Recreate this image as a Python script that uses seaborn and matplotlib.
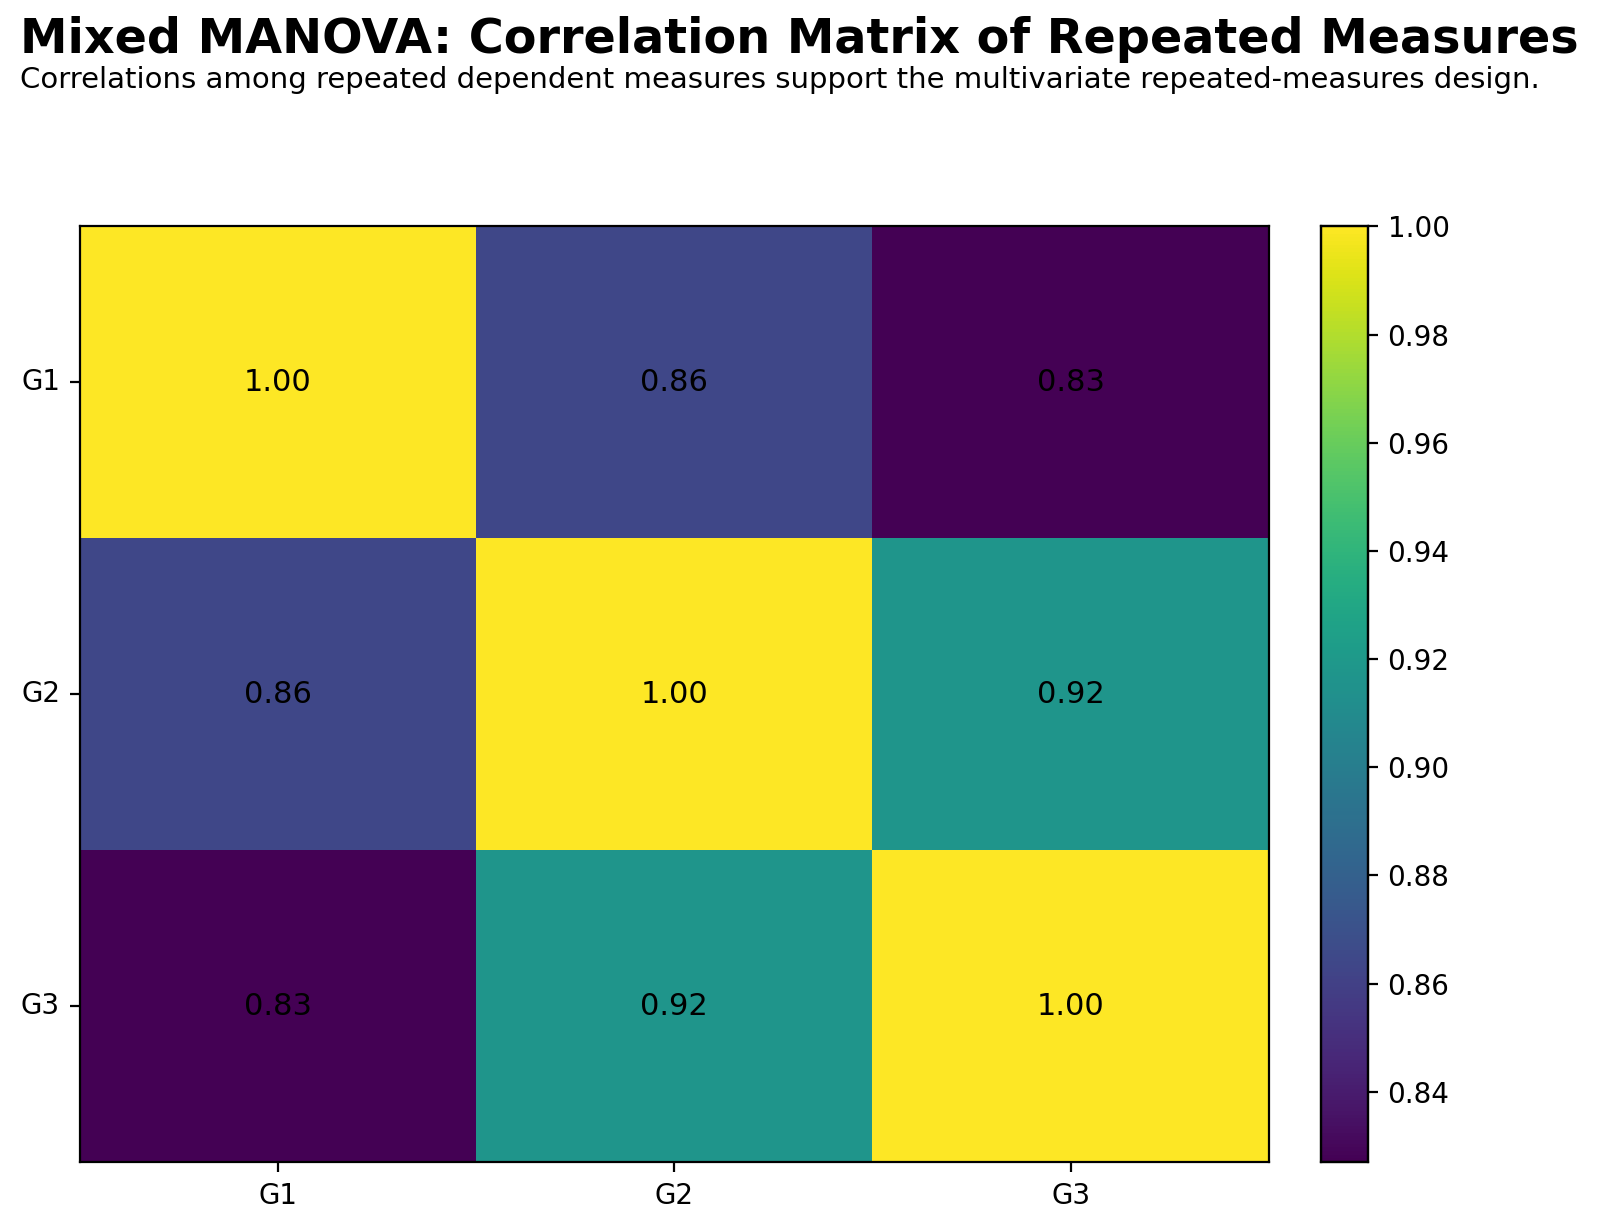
import matplotlib
matplotlib.use('Agg')
import numpy as np
import pandas as pd
import matplotlib.pyplot as plt
import seaborn as sns

# repeated measures
measures = ['G1', 'G2', 'G3']
r_12 = 0.864
r_13 = 0.827
r_23 = 0.917

corr = np.array([[1.0, r_12, r_13],
                 [r_12, 1.0, r_23],
                 [r_13, r_23, 1.0]])
df = pd.DataFrame(corr, index=measures, columns=measures)

fig = plt.figure(figsize=(8, 6.14), dpi=200)
ax = fig.add_axes([0.0497, 0.0537, 0.7433, 0.7619])
cax = fig.add_axes([0.8257, 0.0537, 0.0294, 0.7619])

sns.heatmap(df, ax=ax, cbar_ax=cax, cmap='viridis', annot=True, fmt='.2f',
            annot_kws={'fontsize': 11, 'color': 'black'}, linewidths=0)
ax.tick_params(axis='y', rotation=0, labelsize=10)
ax.tick_params(axis='x', labelsize=10)
ax.set_xlabel('')
ax.set_ylabel('')
for s in ax.spines.values():
    s.set_visible(True)
    s.set_linewidth(0.8)
cax.tick_params(labelsize=10)
for s in cax.spines.values():
    s.set_visible(True)
    s.set_linewidth(0.8)

fig.text(0.0125, 0.987, 'Mixed MANOVA: Correlation Matrix of Repeated Measures',
         fontsize=17.2, fontweight='bold', ha='left', va='top')
fig.text(0.0125, 0.946, 'Correlations among repeated dependent measures support the multivariate repeated-measures design.',
         fontsize=10.5, ha='left', va='top')

fig.savefig('out.png', dpi=200)
